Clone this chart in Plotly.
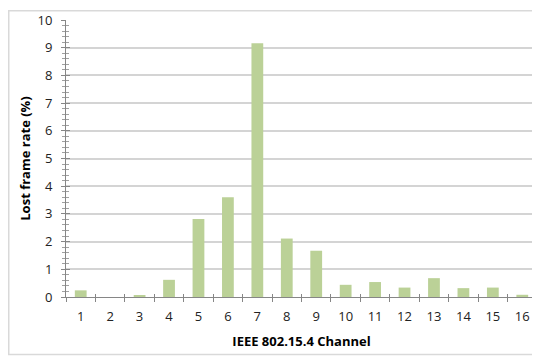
import plotly.graph_objects as go

channels = [str(i) for i in range(1, 17)]
lost_rate = [0.24, 0.0, 0.05, 0.62, 2.82, 3.6, 9.16, 2.11, 1.67, 0.44, 0.54, 0.34, 0.68, 0.32, 0.34, 0.08]
y_ticks = list(range(0, 11))

# page body has an 8px margin, so the figure is drawn 8px smaller and shifted
OFF = 8
W, H = 540 - OFF, 356 - OFF
L, R, T, B = 66 - OFF, 3, 18 - OFF, 59
pw, ph = W - L - R, H - T - B

fig = go.Figure()
fig.add_trace(go.Bar(x=channels, y=lost_rate, marker=dict(color="#BBD197", line=dict(width=0)),
                     xaxis="x", yaxis="y"))
# invisible twin trace so overlay axes (inside tick marks -> cross ticks) align
fig.add_trace(go.Bar(x=channels, y=lost_rate, opacity=0, xaxis="x2", yaxis="y2",
                     hoverinfo="skip", showlegend=False))

font = dict(family="Open Sans, Lato, sans-serif", size=13, color="#000000")

fig.update_layout(
    width=W, height=H,
    margin=dict(l=L, r=R, t=T, b=B),
    paper_bgcolor="white", plot_bgcolor="white",
    showlegend=False, bargap=0.6,
    font=font,
    xaxis=dict(type="category", tickson="boundaries", ticks="outside", ticklen=4,
               tickcolor="#868686", showline=True, linecolor="#868686", linewidth=1,
               showgrid=False, tickfont=dict(size=13, color="#222222"), ticklabelstandoff=7,
               title=dict(text="<b>IEEE 802.15.4 Channel</b>", font=dict(size=13), standoff=13)),
    yaxis=dict(range=[0, 10], tickvals=y_ticks, ticks="outside", ticklen=4,
               tickcolor="#868686", showline=True, linecolor="#868686", linewidth=1,
               showgrid=True, gridcolor="#D4D4D4", gridwidth=1.5,
               minor=dict(dtick=0.2, ticks="outside", ticklen=3, tickcolor="#A0A0A0", showgrid=False),
               tickfont=dict(size=13, color="#222222"), ticklabelstandoff=6, zeroline=False,
               title=dict(text="<b>Lost frame rate (%)</b>", font=dict(size=13), standoff=3)),
    xaxis2=dict(type="category", overlaying="x", matches="x", tickson="boundaries", ticks="inside",
                ticklen=3, tickcolor="#868686", showticklabels=False, showgrid=False,
                showline=False),
    yaxis2=dict(overlaying="y", range=[0, 10], tickvals=y_ticks, ticks="inside", ticklen=4,
                tickcolor="#868686", showticklabels=False, showgrid=False, zeroline=False,
                minor=dict(dtick=0.2, ticks="inside", ticklen=3, tickcolor="#A0A0A0", showgrid=False)),
)

# chart area border
fig.add_shape(type="rect", xref="paper", yref="paper",
              x0=(0.75 - L) / pw, x1=(530.5 - L) / pw,
              y0=(T + ph - 347) / ph, y1=1 + (T - 0.75) / ph,
              line=dict(color="#D9D9D9", width=1.5), layer="below")

fig.write_html("out.html")
